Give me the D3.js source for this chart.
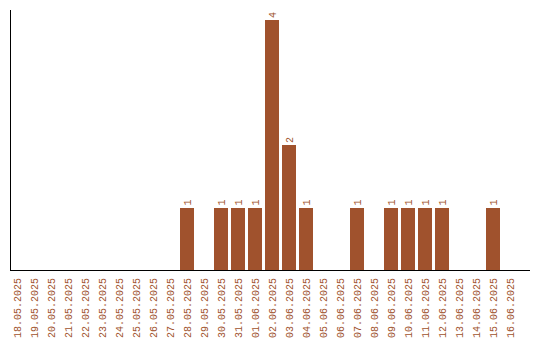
<!DOCTYPE html>
<html>
<head>
<meta charset="utf-8">
<script src="https://cdn.jsdelivr.net/npm/d3@7"></script>
<style>
  body { margin: 0; background: #fff; }
  text { font-family: "Liberation Mono", monospace; font-size: 10px; fill: #a0522d; }
</style>
</head>
<body>
<div id="chart"></div>
<script>
var dates = ["18.05.2025","19.05.2025","20.05.2025","21.05.2025","22.05.2025","23.05.2025",
  "24.05.2025","25.05.2025","26.05.2025","27.05.2025","28.05.2025","29.05.2025","30.05.2025",
  "31.05.2025","01.06.2025","02.06.2025","03.06.2025","04.06.2025","05.06.2025","06.06.2025",
  "07.06.2025","08.06.2025","09.06.2025","10.06.2025","11.06.2025","12.06.2025","13.06.2025",
  "14.06.2025","15.06.2025","16.06.2025"];
var counts = [0,0,0,0,0,0,0,0,0,0,1,0,1,1,1,4,2,1,0,0,1,0,1,1,1,1,0,0,1,0];

var svgWidth = 540;
var svgHeight = 340;

var svg = d3.select("#chart")
  .append("svg")
  .attr("width", svgWidth)
  .attr("height", svgHeight);

var x = d3.scaleBand()
  .domain(dates)
  .range([10, 517])
  .paddingInner(3 / 17)
  .paddingOuter(0);

var y = d3.scaleLinear()
  .domain([0, d3.max(counts) * 1.04])
  .range([270, 10]);

var data = dates.map(function(d, i) { return {date: d, count: counts[i]}; });

svg.selectAll("rect.bar")
  .data(data.filter(d => d.count > 0))
  .enter()
  .append("rect")
  .attr("class", "bar")
  .attr("x", d => x(d.date))
  .attr("y", d => y(d.count))
  .attr("width", x.bandwidth())
  .attr("height", d => y(0) - y(d.count))
  .attr("fill", "#a0522d")
  .attr("shape-rendering", "crispEdges");

// value labels
svg.selectAll("text.val")
  .data(data.filter(d => d.count > 0))
  .enter()
  .append("text")
  .attr("class", "val")
  .attr("transform", d => `translate(${x(d.date) + x.bandwidth() / 2}, ${y(d.count) - 2}) rotate(-90)`)
  .attr("dy", "0.35em")
  .text(d => d.count);

// axes
svg.append("line")
  .attr("x1", 10.5).attr("x2", 10.5)
  .attr("y1", 10).attr("y2", 270)
  .attr("stroke", "#000");

svg.append("line")
  .attr("x1", 10).attr("x2", 530)
  .attr("y1", 270.5).attr("y2", 270.5)
  .attr("stroke", "#000");

// date labels
svg.selectAll("text.date")
  .data(dates)
  .enter()
  .append("text")
  .attr("class", "date")
  .attr("text-anchor", "end")
  .attr("transform", d => `translate(${x(d) + x.bandwidth() / 2}, 278) rotate(-90)`)
  .attr("dy", "0.35em")
  .text(d => d);
</script>
</body>
</html>
